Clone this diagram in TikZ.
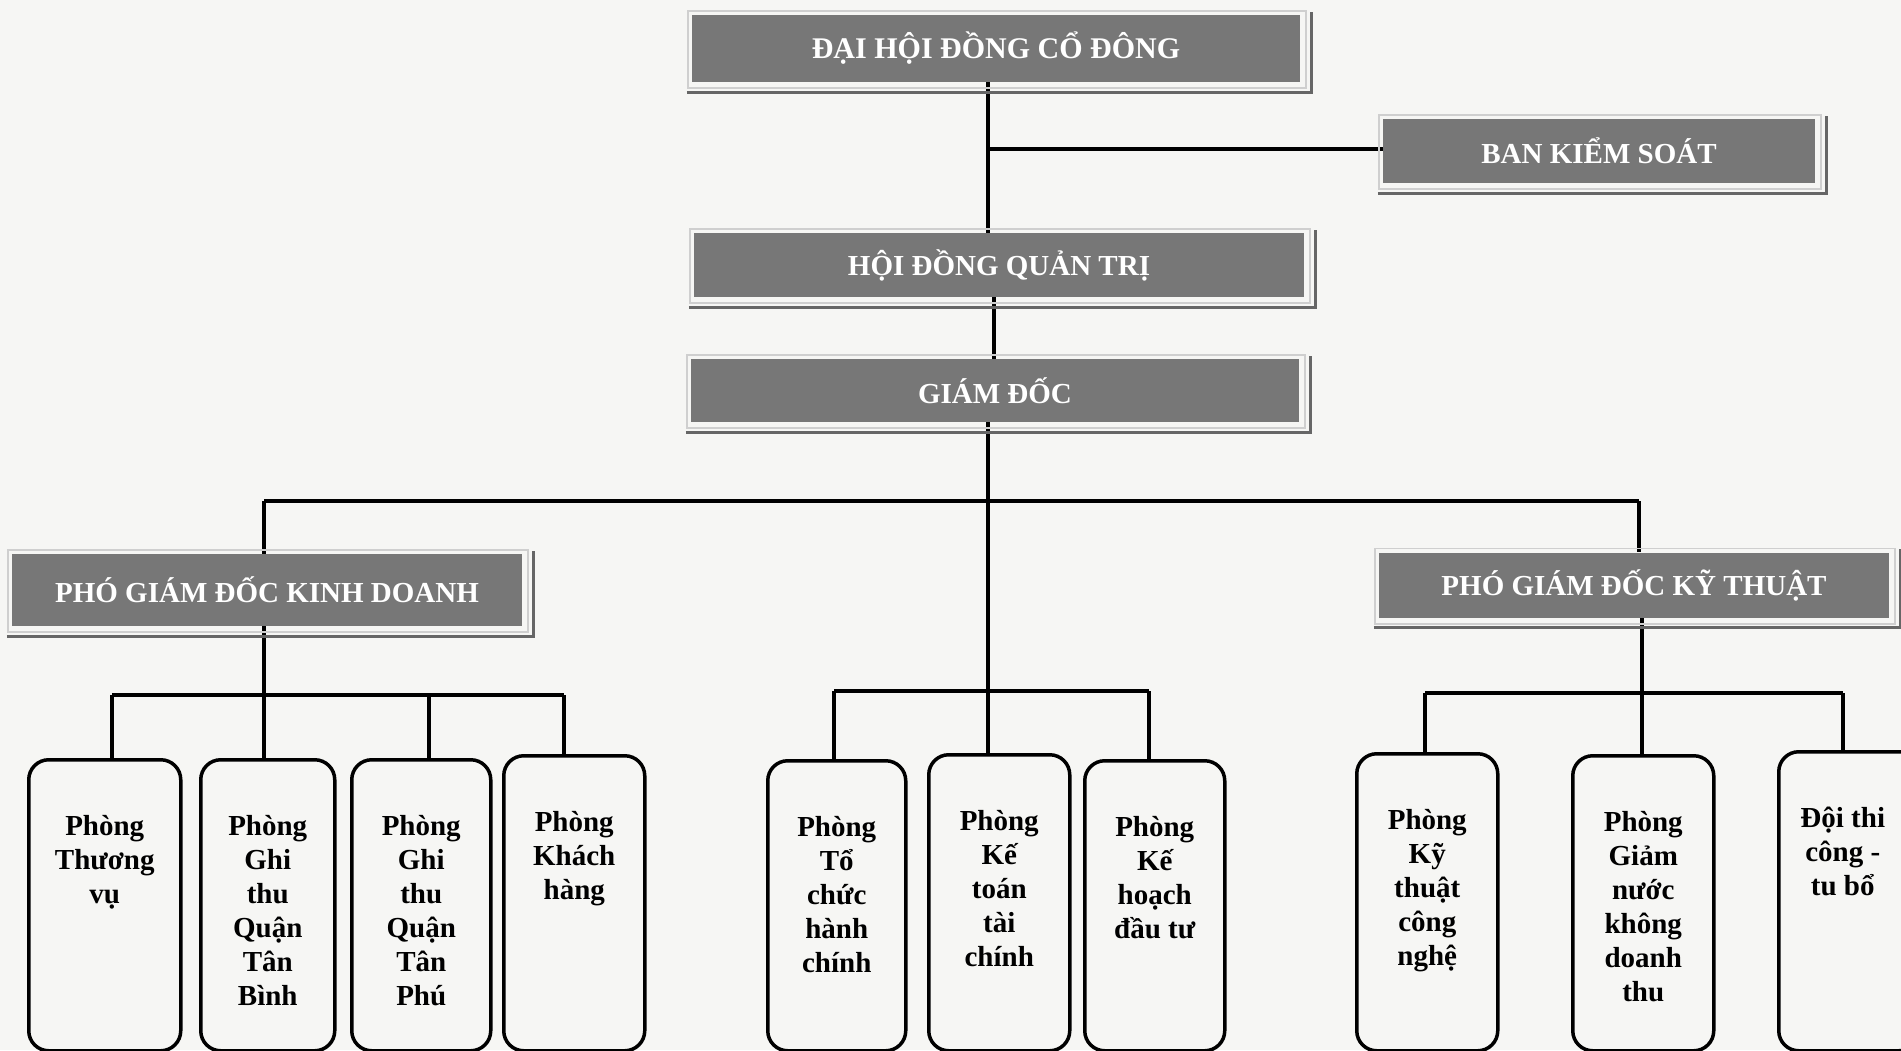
\documentclass[tikz,border=0pt]{standalone}
\usepackage{fontspec}
\setmainfont{Liberation Serif}
\pgfdeclarelayer{bg}
\pgfdeclarelayer{lines}
\pgfsetlayers{bg,lines,main}
\definecolor{paper}{HTML}{F6F6F4}
\definecolor{boxgray}{HTML}{777777}
\definecolor{framelight}{HTML}{CFCFCF}
\definecolor{framedark}{HTML}{666666}
\tikzset{
  head/.style={fill=boxgray, draw=none, inner sep=0pt, text=white,
    font=\fontsize{29}{34}\selectfont\bfseries},
  lightframe/.style={draw=framelight, line width=1.6pt},
  darkframe/.style={draw=framedark, line width=2.8pt},
  dept/.style={draw=black, line width=3.5pt, rounded corners=20pt, fill=paper,
    inner sep=0pt, anchor=north west},
  depttext/.style={align=center, inner sep=0pt, anchor=north,
    font=\fontsize{29}{34}\selectfont\bfseries},
  conn/.style={draw=black, line width=3.4pt}
}
\newcommand\hframe[1]{%
  \draw[lightframe] ([xshift=-4pt,yshift=4pt]#1.north west) rectangle ([xshift=6pt,yshift=-6pt]#1.south east);
  \draw[darkframe] ([xshift=-5pt,yshift=-10pt]#1.south west) -- ([xshift=11pt,yshift=-10pt]#1.south east) -- ([xshift=11pt,yshift=3pt]#1.north east);
}
\newcommand\deptbox[5]{% name, x, top, width, text
  \node[dept, minimum width=#4pt, minimum height={1049-#3}] (#1) at (#2,#3) {};
  \node[depttext] (#1t) at ([yshift=-57pt]#1.north) {#5};
}
\begin{document}
\begin{tikzpicture}[x=1pt,y=-1pt]
\useasboundingbox (0,0) rectangle (1901,1050);
\clip (0,0) rectangle (1901,1050);
\begin{pgfonlayer}{bg}
  \fill[paper] (0,0) rectangle (1901,1050);
\end{pgfonlayer}

% header boxes
\node[head, minimum width=608pt, minimum height=67pt, font=\fontsize{30}{34}\selectfont\bfseries] (dh) at (996,48.5) {ĐẠI HỘI ĐỒNG CỔ ĐÔNG};
\node[head, minimum width=432pt, minimum height=64pt] (bks) at (1599,151) {BAN KIỂM SOÁT};
\node[head, minimum width=610pt, minimum height=64pt] (hdqt) at (999,265) {HỘI ĐỒNG QUẢN TRỊ};
\node[head, minimum width=608pt, minimum height=63pt] (gd) at (995,390.5) {GIÁM ĐỐC};
\node[head, minimum width=510pt, minimum height=72pt] (pkd) at (267,590) {PHÓ GIÁM ĐỐC KINH DOANH};
\node[head, minimum width=510pt, minimum height=65pt] (pkt) at (1634,585) {PHÓ GIÁM ĐỐC KỸ THUẬT};
\hframe{dh}\hframe{bks}\hframe{hdqt}\hframe{gd}\hframe{pkd}\hframe{pkt}

% department boxes
\deptbox{b1}{27}{758}{152}{Phòng\\Thương\\vụ}
\deptbox{b2}{199}{758}{134}{Phòng\\Ghi\\thu\\Quận\\Tân\\Bình}
\deptbox{b3}{350}{758}{139}{Phòng\\Ghi\\thu\\Quận\\Tân\\Phú}
\deptbox{b4}{502}{754}{141}{Phòng\\Khách\\hàng}
\deptbox{b5}{766}{759}{138}{Phòng\\Tổ\\chức\\hành\\chính}
\deptbox{b6}{927}{753}{141}{Phòng\\Kế\\toán\\tài\\chính}
\deptbox{b7}{1083}{759}{140}{Phòng\\Kế\\hoạch\\đầu tư}
\deptbox{b8}{1355}{752}{141}{Phòng\\Kỹ\\thuật\\công\\nghệ}
\deptbox{b9}{1571}{754}{141}{Phòng\\Giảm\\nước\\không\\doanh\\thu}
\node[dept, minimum width=140pt, minimum height=299pt] (b10) at (1777,750) {};
\node[depttext] (b10t) at ([xshift=-6pt,yshift=-57pt]b10.north) {Đội thi\\công -\\tu bổ};

% connectors
\coordinate (j1) at (988,149);
\coordinate (j2) at (994,330);
\coordinate (j3) at (988,501);
\coordinate (j4) at (988,691);
\coordinate (bl) at (264,501);
\coordinate (br) at (1639,501);
\coordinate (k1) at (112,695);
\coordinate (k2) at (264,695);
\coordinate (k3) at (429,695);
\coordinate (k4) at (564,695);
\coordinate (l1) at (834,691);
\coordinate (l3) at (1149,691);
\coordinate (r1) at (1425,693);
\coordinate (r2) at (1642,693);
\coordinate (r3) at (1843,693);
\begin{pgfonlayer}{lines}
  \draw[conn] (dh.south -| j1) -- (hdqt.north -| j1);
  \draw[conn] (j1) -- (j1 -| bks.west);
  \draw[conn] (hdqt.south -| j2) -- (gd.north -| j2);
  \draw[conn] (gd.south -| j3) -- (j4);
  \draw[conn] (bl) -- (br);
  \draw[conn] (bl) -- (pkd.north -| bl);
  \draw[conn] (br) -- (pkt.north -| br);
  \draw[conn] (pkd.south -| k2) -- (k2);
  \draw[conn] (k1) -- (k4);
  \draw[conn] (k1) -- (b1.north -| k1);
  \draw[conn] (k2) -- (b2.north -| k2);
  \draw[conn] (k3) -- (b3.north -| k3);
  \draw[conn] (k4) -- (b4.north -| k4);
  \draw[conn] (l1) -- (l3);
  \draw[conn] (l1) -- (b5.north -| l1);
  \draw[conn] (j4) -- (b6.north -| j4);
  \draw[conn] (l3) -- (b7.north -| l3);
  \draw[conn] (pkt.south -| r2) -- (r2);
  \draw[conn] (r1) -- (r3);
  \draw[conn] (r1) -- (b8.north -| r1);
  \draw[conn] (r2) -- (b9.north -| r2);
  \draw[conn] (r3) -- (b10.north -| r3);
\end{pgfonlayer}
\end{tikzpicture}
\end{document}
